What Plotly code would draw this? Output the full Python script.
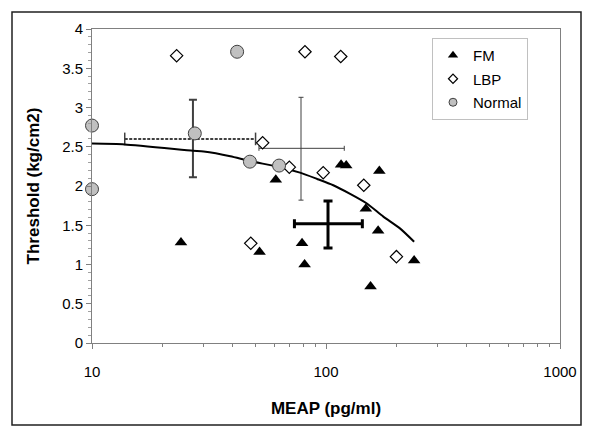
import plotly.graph_objects as go

# ---- data ----
fm_x = [24, 52, 61, 79, 81, 116, 122, 148, 155, 167, 169, 238]
fm_y = [1.28, 1.16, 2.08, 1.27, 1.00, 2.27, 2.26, 1.71, 0.72, 1.43, 2.19, 1.05]

lbp_x = [23, 47.7, 53.6, 69.7, 81.3, 97.3, 115.6, 145, 200]
lbp_y = [3.66, 1.27, 2.55, 2.24, 3.71, 2.17, 3.65, 2.01, 1.10]

norm_x = [10, 10, 27.5, 41.7, 47.3, 63]
norm_y = [2.77, 1.96, 2.67, 3.71, 2.31, 2.26]

# group means with error ranges
fm_mean = dict(x=102, y=1.52, x_lo=73.3, x_hi=143, y_lo=1.21, y_hi=1.81)
lbp_mean = dict(x=78.2, y=2.48, x_lo=51.7, x_hi=119.7, y_lo=1.82, y_hi=3.13)
norm_mean = dict(x=27, y=2.60, x_lo=13.8, x_hi=50, y_lo=2.11, y_hi=3.10)

# trend line
trend_x = [10, 13.8, 27, 30, 39, 47, 63.5, 77.4, 91.6, 107.4, 126.8, 149, 175.8, 207, 238]
trend_y = [2.54, 2.53, 2.45, 2.44, 2.38, 2.32, 2.24, 2.17, 2.09, 2.01, 1.90, 1.78, 1.61, 1.46, 1.29]

y_ticks = [0, 0.5, 1, 1.5, 2, 2.5, 3, 3.5, 4]
y_tick_labels = ["0", "0.5", "1", "1.5", "2", "2.5", "3", "3.5", "4"]
x_ticks = [10, 100, 1000]
x_tick_labels = ["10", "100", "1000"]

FONT = "Liberation Sans, Arial, sans-serif"

fig = go.Figure()


def mean_bars(m, color, thick, cap, dashed_x=False):
    ex = None
    if not dashed_x:
        ex = dict(type="data", symmetric=False, array=[m["x_hi"] - m["x"]],
                  arrayminus=[m["x"] - m["x_lo"]], color=color,
                  thickness=thick, width=cap)
    fig.add_trace(go.Scatter(
        x=[m["x"]], y=[m["y"]], mode="markers",
        marker=dict(size=1, color="rgba(0,0,0,0)"),
        error_y=dict(type="data", symmetric=False, array=[m["y_hi"] - m["y"]],
                     arrayminus=[m["y"] - m["y_lo"]], color=color,
                     thickness=thick, width=cap),
        error_x=ex, showlegend=False, hoverinfo="skip"))
    if dashed_x:
        fig.add_trace(go.Scatter(
            x=[m["x_lo"], m["x_hi"]], y=[m["y"], m["y"]], mode="lines+markers",
            line=dict(color=color, width=2, dash="3px,1.5px"),
            marker=dict(symbol="line-ns-open", size=9,
                        line=dict(color=color, width=1.5)),
            showlegend=False, hoverinfo="skip"))


# error crosses
mean_bars(norm_mean, "#404040", 2, 4, dashed_x=True)
mean_bars(lbp_mean, "#404040", 1, 2.5)

# trend line
fig.add_trace(go.Scatter(x=trend_x, y=trend_y, mode="lines",
                         line=dict(color="black", width=2, shape="spline", smoothing=0.6),
                         showlegend=False, hoverinfo="skip"))

mean_bars(fm_mean, "black", 3, 4.5)

# data series (legend drawn by smaller-marker legend-only entries below)
fig.add_trace(go.Scatter(
    x=fm_x, y=fm_y, mode="markers", name="FM",
    marker=dict(symbol="triangle-up", size=11, color="black",
                line=dict(color="black", width=0)),
    cliponaxis=False, showlegend=False))
fig.add_trace(go.Scatter(
    x=lbp_x, y=lbp_y, mode="markers", name="LBP",
    marker=dict(symbol="diamond", size=9.5, color="white",
                line=dict(color="black", width=1.2)),
    cliponaxis=False, showlegend=False))
fig.add_trace(go.Scatter(
    x=norm_x, y=norm_y, mode="markers", name="Normal",
    marker=dict(symbol="circle", size=13, color="#C0C0C0",
                line=dict(color="#404040", width=1)),
    cliponaxis=False, showlegend=False))

# legend entries
fig.add_trace(go.Scatter(x=[None], y=[None], mode="markers", name="FM",
                         marker=dict(symbol="triangle-up", size=9, color="black"),
                         legendgroup="a"))
fig.add_trace(go.Scatter(x=[None], y=[None], mode="markers", name="LBP",
                         marker=dict(symbol="diamond", size=7, color="white",
                                     line=dict(color="black", width=1.2)),
                         legendgroup="b"))
fig.add_trace(go.Scatter(x=[None], y=[None], mode="markers", name="Normal",
                         marker=dict(symbol="circle", size=8, color="#C0C0C0",
                                     line=dict(color="#404040", width=1)),
                         legendgroup="c"))

# outer chart-area border
fig.add_shape(type="rect", xref="paper", yref="paper",
              x0=(12 - 92) / 468, x1=(581 - 92) / 468,
              y0=(343 - 425) / 314, y1=(343 - 12) / 314,
              line=dict(color="#202020", width=1.5), layer="below")

fig.update_layout(
    width=600, height=435,
    margin=dict(l=92, r=40, t=29, b=92),
    paper_bgcolor="white", plot_bgcolor="white",
    font=dict(family=FONT, size=15, color="black"),
    showlegend=True,
    legend=dict(x=(432 - 92) / 468, y=(343 - 38) / 314,
                xanchor="left", yanchor="top",
                bordercolor="#C0C0C0", borderwidth=1,
                bgcolor="white", font=dict(size=15, family=FONT),
                tracegroupgap=1, itemwidth=30),
    xaxis=dict(type="log", range=[1, 3],
               tickvals=x_ticks, ticktext=x_tick_labels,
               showgrid=False, zeroline=False,
               showline=True, linecolor="#808080", linewidth=1, mirror=True,
               ticks="outside", ticklen=5, tickcolor="#808080",
               ticklabelstandoff=10,
               minor=dict(ticks="outside", ticklen=3, tickcolor="#808080",
                          dtick="D1", showgrid=False),
               title=dict(text="<b>MEAP (pg/ml)</b>", font=dict(size=17),
                          standoff=23)),
    yaxis=dict(range=[0, 4], tickvals=y_ticks, ticktext=y_tick_labels,
               showgrid=False, zeroline=False,
               showline=True, linecolor="#808080", linewidth=1, mirror=True,
               ticks="outside", ticklen=5, tickcolor="#808080",
               minor=dict(ticks="outside", ticklen=3, tickcolor="#A0A0A0",
                          dtick=0.1, showgrid=False),
               title=dict(text="<b>Threshold (kg/cm2)</b>", font=dict(size=17),
                          standoff=18)),
)

fig.write_html("out.html", config={"displayModeBar": False},
               post_script="document.body.style.margin='0px';")
